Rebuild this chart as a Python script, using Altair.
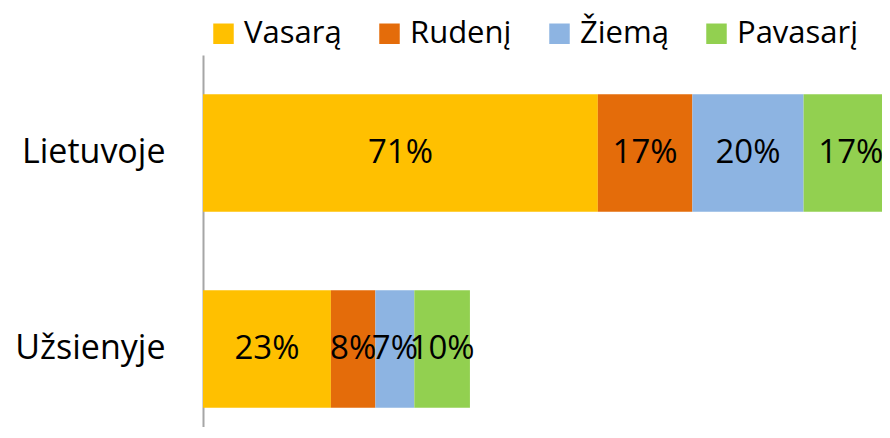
import altair as alt
import pandas as pd

categories = ["Lietuvoje", "Užsienyje"]
seasons = ["Vasarą", "Rudenį", "Žiemą", "Pavasarį"]
colors = ["#FFC000", "#E46C0A", "#8DB4E2", "#92D050"]
lietuvoje = [71, 17, 20, 17]
uzsienyje = [23, 8, 7, 10]

rows = []
for cat, vals in zip(categories, [lietuvoje, uzsienyje]):
    for i, (s, v) in enumerate(zip(seasons, vals)):
        rows.append({"cat": cat, "season": s, "order": i, "value": v, "label": f"{v}%"})
df = pd.DataFrame(rows)

FONT = "Open Sans"

base = alt.Chart(df).transform_stack(
    stack="value", as_=["v0", "v1"], groupby=["cat"], sort=[alt.SortField("order")]
).transform_calculate(mid="(datum.v0 + datum.v1) / 2")

xscale = alt.Scale(domain=[0, 122.1], nice=False, zero=True)
yenc = alt.Y(
    "cat:N",
    sort=categories,
    title=None,
    scale=alt.Scale(paddingInner=0.4, paddingOuter=0.2, range=[0, 392]),
    axis=alt.Axis(
        ticks=False,
        labelFont=FONT,
        labelFontSize=34,
        labelColor="#000000",
        labelPadding=38,
        domainColor="#A6A6A6",
        domainWidth=2,
        grid=False,
    ),
)

bars = base.mark_bar(clip=True).encode(
    x=alt.X("v0:Q", scale=xscale, axis=None),
    x2="v1:Q",
    y=yenc,
    color=alt.Color(
        "season:N",
        scale=alt.Scale(domain=seasons, range=colors),
        legend=alt.Legend(
            title=None,
            orient="none",
            direction="horizontal",
            legendX=5,
            legendY=-37,
            symbolType="square",
            symbolSize=420,
            symbolStrokeWidth=0,
            symbolOpacity=1,
            labelFont=FONT,
            labelFontSize=31,
            labelColor="#000000",
            labelOffset=5,
            columnPadding=32,
            padding=0,
        ),
    ),
)

text = base.mark_text(font=FONT, fontSize=33, color="#000000", baseline="middle", align="center").encode(
    x=alt.X("mid:Q", scale=xscale, axis=None),
    y=alt.Y("cat:N", sort=categories),
    text="label:N",
)

chart = (
    alt.layer(bars, text)
    .properties(
        width=679,
        height=372,
        autosize=alt.AutoSizeParams(type="none"),
        padding={"left": 195, "top": 47, "right": 0, "bottom": 0},
    )
    .configure_view(stroke=None)
)

chart.save("out.html", embed_options={"renderer": "svg", "actions": False})
